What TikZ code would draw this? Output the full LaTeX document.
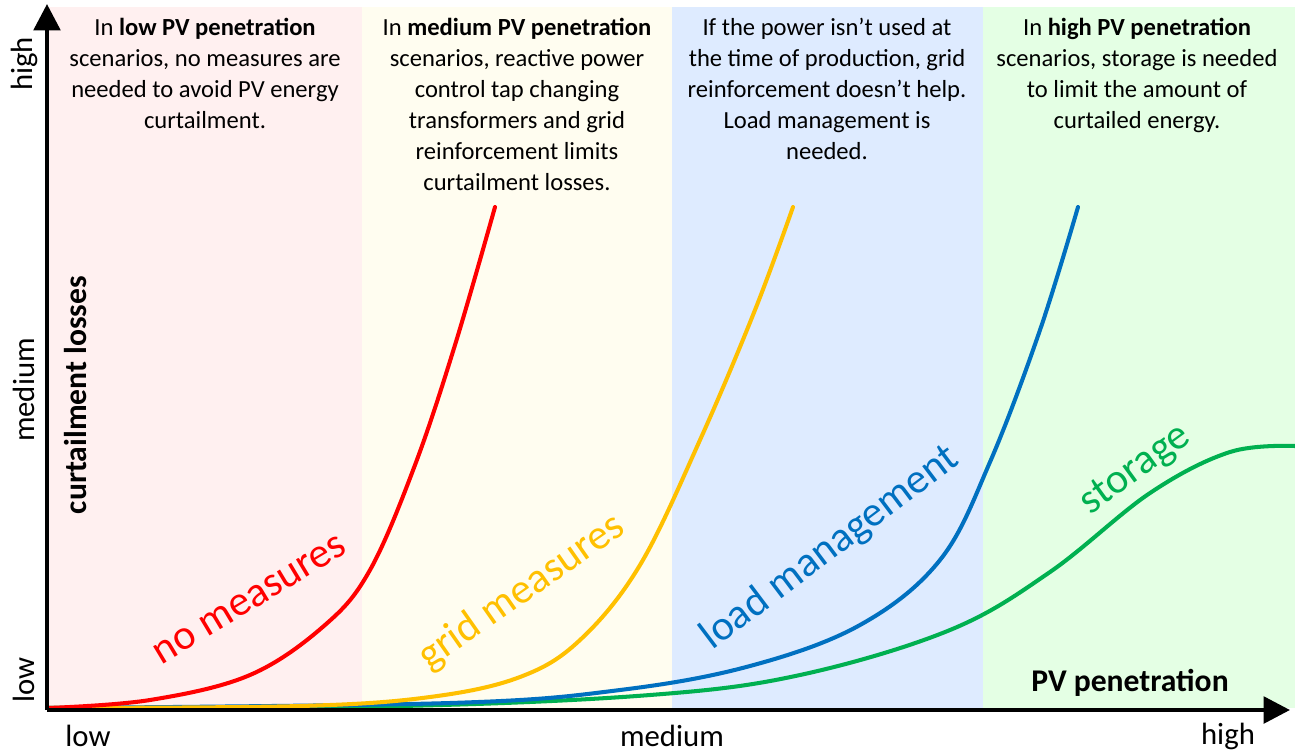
\documentclass[tikz,border=0pt]{standalone}
\usepackage{fontspec}
\setmainfont{Carlito}
\usetikzlibrary{arrows.meta}

\begin{document}
\begin{tikzpicture}[x=0.02cm,y=-0.02cm,
    info/.style={align=center,anchor=north,inner sep=0pt,font=\fontsize{14}{17.6}\selectfont},
    ticklab/.style={font=\fontsize{17.5}{21}\selectfont,inner sep=0pt},
    axtitle/.style={font=\fontsize{18}{21}\selectfont\bfseries,inner sep=0pt},
    curvelab/.style={font=\fontsize{24}{28}\selectfont,inner sep=0pt},
    curve/.style={line width=2.3pt,line cap=round}]
    \definecolor{bandred}{RGB}{255,240,240}
    \definecolor{bandyellow}{RGB}{255,253,240}
    \definecolor{bandblue}{RGB}{222,235,255}
    \definecolor{bandgreen}{RGB}{228,255,228}
    \definecolor{cred}{RGB}{255,0,0}
    \definecolor{cyellow}{RGB}{255,192,0}
    \definecolor{cblue}{RGB}{0,112,192}
    \definecolor{cgreen}{RGB}{0,176,80}
    \useasboundingbox (0,0) rectangle (1295,755);

    % background bands %
    \fill[bandred] (48,7) rectangle (362,708);
    \fill[bandyellow] (362,7) rectangle (672,708);
    \fill[bandblue] (672,7) rectangle (983,708);
    \fill[bandgreen] (983,7) rectangle (1295,708);

    % scenario texts %
    \node[info] (tlow) at (205,18) {In \textbf{low PV penetration}\\scenarios, no measures are\\needed to avoid PV energy\\curtailment.};
    \node[info] (tmed) at (517,18) {In \textbf{medium PV penetration}\\scenarios, reactive power\\control tap changing\\transformers and grid\\reinforcement limits\\curtailment losses.};
    \node[info] (tload) at (827,18) {If the power isn’t used at\\the time of production, grid\\reinforcement doesn’t help.\\Load management is\\needed.};
    \node[info] (thigh) at (1137,18) {In \textbf{high PV penetration}\\scenarios, storage is needed\\to limit the amount of\\curtailed energy.};

    % curves %
    \draw[curve,cgreen] plot[smooth,tension=0.6] coordinates {(48,708) (400,706) (650,695) (800,675) (950,630) (1050,572) (1150,493) (1230,452) (1295,446)};
    \draw[curve,cblue] plot[smooth,tension=0.6] coordinates {(48,708) (450,703) (620,690) (750,666) (860,625) (940,560) (990,462) (1040,330) (1078,207)};
    \draw[curve,cyellow] plot[smooth,tension=0.6] coordinates {(48,708) (300,706) (430,697) (520,677) (580,640) (640,565) (700,440) (755,310) (793,207)};
    \draw[curve,cred] plot[smooth,tension=0.6] coordinates {(48,708) (150,700) (250,675) (325,625) (370,570) (415,465) (455,345) (495,207)};

    % curve labels %
    \node[curvelab,text=cred,rotate=31] (lnone) at (250,600) {no measures};
    \node[curvelab,text=cyellow,rotate=35] (lgrid) at (522,592) {grid measures};
    \node[curvelab,text=cblue,rotate=37] (lload) at (830,548) {load management};
    \node[curvelab,text=cgreen,rotate=36] (lstore) at (1136,470) {storage};

    % axes %
    \coordinate (origin) at (47,710);
    \coordinate (ytip) at (47,4);
    \coordinate (xtip) at (1290,710);
    \draw[line width=2.5pt,-{Triangle[length=15pt,width=15pt]}] (origin) -- (ytip);
    \draw[line width=2.5pt,-{Triangle[length=15pt,width=15pt]}] (origin) -- (xtip);

    % axis labels %
    \node[ticklab,rotate=90] (yhigh) at (24,64) {high};
    \node[ticklab,rotate=90] (ymed) at (24,390) {medium};
    \node[ticklab,rotate=90] (ylow) at (24,680) {low};
    \node[axtitle,rotate=90] (ytitle) at (76,395) {curtailment losses};
    \node[ticklab] (xlow) at (88,736) {low};
    \node[ticklab] (xmed) at (672,736) {medium};
    \node[ticklab] (xhigh) at (1228,736) {high};
    \node[axtitle] (xtitle) at (1130,683) {PV penetration};
\end{tikzpicture}
\end{document}
